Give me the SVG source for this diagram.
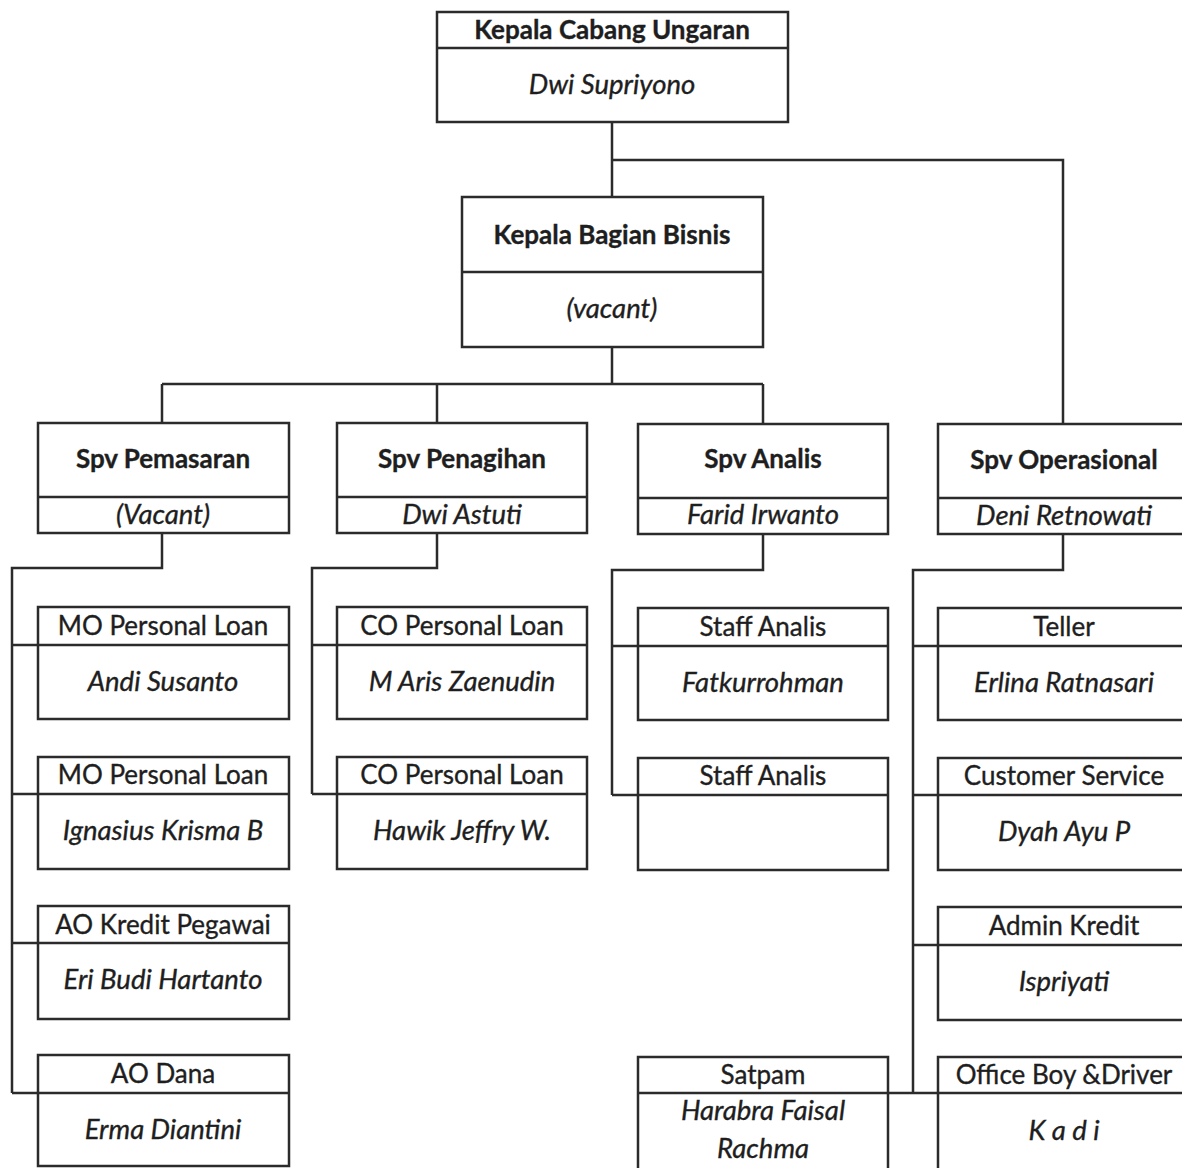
<svg xmlns="http://www.w3.org/2000/svg" width="1182" height="1168" viewBox="0 0 1182 1168">
<style>
.box{fill:#fff;stroke:#2b2b2b;stroke-width:2.5}
.div{stroke:#2b2b2b;stroke-width:2.5}
.con{fill:none;stroke:#2b2b2b;stroke-width:2.5}
text{font-family:Lato,"Open Sans","Liberation Sans",sans-serif;fill:#1e1e1e;stroke:#1e1e1e;stroke-width:0.35;text-anchor:middle;font-size:26px}
.b{font-weight:bold}
.i{font-style:italic;font-size:27.5px}
</style>
<rect width="1182" height="1168" fill="#fff"/>
<g id="connectors">
<path class="con" d="M612 122V197M612 160H1063V423M612 347V384M162 384H763M162 384V423M437 384V423M763 384V423"/>
<path class="con" d="M162 533V568H12V1093M12 645H38M12 794H38M12 943H38M12 1093H38"/>
<path class="con" d="M437 533V568H312V794M312 645H337M312 794H337"/>
<path class="con" d="M763 533V570H612V795M612 646H638M612 795H638"/>
<path class="con" d="M1063 533V570H913V1093M913 646H938M913 795H938M913 945H938M888 1093H938"/>
</g>
<g id="kepala-cabang">
<rect class="box" x="437" y="12" width="351" height="110"/>
<line class="div" x1="437" y1="48" x2="788" y2="48"/>
<text class="b" x="612" y="39">Kepala Cabang Ungaran</text>
<text class="i" x="612" y="94">Dwi Supriyono</text>
</g>
<g id="kepala-bagian">
<rect class="box" x="462" y="197" width="301" height="150"/>
<line class="div" x1="462" y1="272" x2="763" y2="272"/>
<text class="b" x="612" y="244">Kepala Bagian Bisnis</text>
<text class="i" x="612" y="318">(vacant)</text>
</g>
<g id="spv-pemasaran">
<rect class="box" x="38" y="423" width="251" height="110"/>
<line class="div" x1="38" y1="497" x2="289" y2="497"/>
<text class="b" x="163" y="468">Spv Pemasaran</text>
<text class="i" x="163" y="524">(Vacant)</text>
</g>
<g id="spv-penagihan">
<rect class="box" x="337" y="423" width="250" height="110"/>
<line class="div" x1="337" y1="497" x2="587" y2="497"/>
<text class="b" x="462" y="468">Spv Penagihan</text>
<text class="i" x="462" y="524">Dwi Astuti</text>
</g>
<g id="spv-analis">
<rect class="box" x="638" y="424" width="250" height="110"/>
<line class="div" x1="638" y1="498" x2="888" y2="498"/>
<text class="b" x="763" y="468">Spv Analis</text>
<text class="i" x="763" y="524">Farid Irwanto</text>
</g>
<g id="spv-operasional">
<rect class="box" x="938" y="424" width="252" height="110"/>
<line class="div" x1="938" y1="498" x2="1190" y2="498"/>
<text class="b" x="1064" y="469">Spv Operasional</text>
<text class="i" x="1064" y="525">Deni Retnowati</text>
</g>
<g id="mo1">
<rect class="box" x="38" y="607" width="251" height="112"/>
<line class="div" x1="38" y1="645" x2="289" y2="645"/>
<text x="163" y="635">MO Personal Loan</text>
<text class="i" x="163" y="691">Andi Susanto</text>
</g>
<g id="mo2">
<rect class="box" x="38" y="757" width="251" height="112"/>
<line class="div" x1="38" y1="794" x2="289" y2="794"/>
<text x="163" y="784">MO Personal Loan</text>
<text class="i" x="163" y="840">Ignasius Krisma B</text>
</g>
<g id="ao-kredit">
<rect class="box" x="38" y="906" width="251" height="113"/>
<line class="div" x1="38" y1="943" x2="289" y2="943"/>
<text x="163" y="934">AO Kredit Pegawai</text>
<text class="i" x="163" y="989">Eri Budi Hartanto</text>
</g>
<g id="ao-dana">
<rect class="box" x="38" y="1055" width="251" height="111"/>
<line class="div" x1="38" y1="1093" x2="289" y2="1093"/>
<text x="163" y="1083">AO Dana</text>
<text class="i" x="163" y="1139">Erma Diantini</text>
</g>
<g id="co1">
<rect class="box" x="337" y="607" width="250" height="112"/>
<line class="div" x1="337" y1="645" x2="587" y2="645"/>
<text x="462" y="635">CO Personal Loan</text>
<text class="i" x="462" y="691">M Aris Zaenudin</text>
</g>
<g id="co2">
<rect class="box" x="337" y="757" width="250" height="112"/>
<line class="div" x1="337" y1="794" x2="587" y2="794"/>
<text x="462" y="784">CO Personal Loan</text>
<text class="i" x="462" y="840">Hawik Jeffry W.</text>
</g>
<g id="staff-analis1">
<rect class="box" x="638" y="608" width="250" height="112"/>
<line class="div" x1="638" y1="646" x2="888" y2="646"/>
<text x="763" y="636">Staff Analis</text>
<text class="i" x="763" y="692">Fatkurrohman</text>
</g>
<g id="staff-analis2">
<rect class="box" x="638" y="758" width="250" height="112"/>
<line class="div" x1="638" y1="795" x2="888" y2="795"/>
<text x="763" y="785">Staff Analis</text>
</g>
<g id="satpam">
<rect class="box" x="638" y="1057" width="250" height="115"/>
<line class="div" x1="638" y1="1093" x2="888" y2="1093"/>
<text x="763" y="1084">Satpam</text>
<text class="i" x="763" y="1120">Harabra Faisal</text>
<text class="i" x="763" y="1158">Rachma</text>
</g>
<g id="teller">
<rect class="box" x="938" y="608" width="252" height="112"/>
<line class="div" x1="938" y1="646" x2="1190" y2="646"/>
<text x="1064" y="636">Teller</text>
<text class="i" x="1064" y="692">Erlina Ratnasari</text>
</g>
<g id="cs">
<rect class="box" x="938" y="758" width="252" height="112"/>
<line class="div" x1="938" y1="795" x2="1190" y2="795"/>
<text x="1064" y="785">Customer Service</text>
<text class="i" x="1064" y="841">Dyah Ayu P</text>
</g>
<g id="admin-kredit">
<rect class="box" x="938" y="907" width="252" height="113"/>
<line class="div" x1="938" y1="945" x2="1190" y2="945"/>
<text x="1064" y="935">Admin Kredit</text>
<text class="i" x="1064" y="991">Ispriyati</text>
</g>
<g id="office-boy">
<rect class="box" x="938" y="1057" width="252" height="115"/>
<line class="div" x1="938" y1="1093" x2="1190" y2="1093"/>
<text x="1064" y="1084">Office Boy &amp;Driver</text>
<text class="i" x="1064" y="1140">K a d i</text>
</g>
</svg>
